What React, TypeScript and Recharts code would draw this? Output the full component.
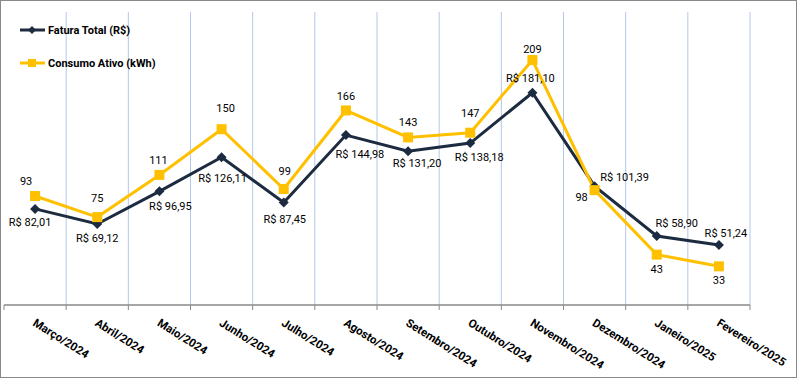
import React from "react";
import { CartesianGrid, LabelList, Line, LineChart, XAxis, YAxis } from "recharts";

const MONTHS = [
  "Março/2024",
  "Abril/2024",
  "Maio/2024",
  "Junho/2024",
  "Julho/2024",
  "Agosto/2024",
  "Setembro/2024",
  "Outubro/2024",
  "Novembro/2024",
  "Dezembro/2024",
  "Janeiro/2025",
  "Fevereiro/2025",
];

const FATURA = [82.01, 69.12, 96.95, 126.11, 87.45, 144.98, 131.2, 138.18, 181.1, 101.39, 58.9, 51.24];
const CONSUMO = [93, 75, 111, 150, 99, 166, 143, 147, 209, 98, 43, 33];

// label offsets from each point (dx, dy to text centre)
const FATURA_LABEL_OFFSET = [
  [-5, 13], [0, 14], [11, 15], [1, 21], [1, 16], [14, 19],
  [9, 12], [9, 14], [-2, -15], [30, -9], [20, -13], [7, -12],
];
const CONSUMO_LABEL_OFFSET = [
  [-9, -15], [0, -19], [-1, -15], [4, -21], [1, -18], [0, -14],
  [0, -15], [0, -20], [0, -11], [-13, 7], [0, 14], [0, 14],
];

const data = MONTHS.map((month, i) => ({ month, fatura: FATURA[i], consumo: CONSUMO[i] }));

const NAVY = "#1c2b40";
const GOLD = "#ffc000";
const GRID = "#b4c7e7";
const AXIS = "#898989";
const FONT = "Roboto, 'Noto Sans', sans-serif";

const W = 795;
const H = 376;
const MARGIN = { top: 11, right: 46, bottom: 0, left: 3 };
const X_AXIS_H = 72;
const BAND = (W - MARGIN.left - MARGIN.right) / MONTHS.length;

const brl = (v: number) => "R$ " + v.toFixed(2).replace(".", ",");

function Diamond(props: any) {
  const { cx, cy } = props;
  if (cx == null || cy == null) return null;
  const r = 5;
  return <polygon points={`${cx},${cy - r} ${cx + r},${cy} ${cx},${cy + r} ${cx - r},${cy}`} fill={NAVY} />;
}

function Square(props: any) {
  const { cx, cy } = props;
  if (cx == null || cy == null) return null;
  return <rect x={cx - 5} y={cy - 5} width={10} height={10} fill={GOLD} />;
}

function makeLabel(offsets: number[][], format: (v: number) => string) {
  return (props: any) => {
    const { x, y, value, index } = props;
    const [dx, dy] = offsets[index] || [0, -12];
    return (
      <text x={x + dx} y={y + dy + 4} textAnchor="middle" fontFamily={FONT} fontSize={11} fill="#000">
        {format(value)}
      </text>
    );
  };
}

function MonthTick(props: any) {
  const { payload, index } = props;
  const x = payload.coordinate;
  const axisY = H - X_AXIS_H - MARGIN.bottom;
  return (
    <g>
      <line x1={x - BAND / 2} x2={x - BAND / 2} y1={axisY} y2={axisY + 5} stroke={AXIS} />
      {index === MONTHS.length - 1 && (
        <line x1={x + BAND / 2} x2={x + BAND / 2} y1={axisY} y2={axisY + 5} stroke={AXIS} />
      )}
      <text
        x={0}
        y={0}
        transform={`translate(${x - 3},${axisY + 20}) rotate(32)`}
        textAnchor="start"
        fontFamily={FONT}
        fontSize={11.5}
        fontWeight="bold"
        fill="#000"
      >
        {payload.value}
      </text>
    </g>
  );
}

function ChartLegend() {
  const rows = [
    { name: "Fatura Total (R$)", color: NAVY, marker: "diamond" },
    { name: "Consumo Ativo (kWh)", color: GOLD, marker: "square" },
  ];
  return (
    <svg width={170} height={60} style={{ position: "absolute", left: 17, top: 19 }}>
      {rows.map((r, i) => {
        const y = 10 + i * 33;
        return (
          <g key={r.name}>
            <line x1={2} x2={27} y1={y} y2={y} stroke={r.color} strokeWidth={3} />
            {r.marker === "diamond" ? (
              <polygon points={`14,${y - 4} 18,${y} 14,${y + 4} 10,${y}`} fill={r.color} />
            ) : (
              <rect x={10} y={y - 4} width={8} height={8} fill={r.color} />
            )}
            <text x={30} y={y + 4} fontFamily={FONT} fontSize={11} fontWeight="bold" fill="#000">
              {r.name}
            </text>
          </g>
        );
      })}
    </svg>
  );
}

export default function App() {
  return (
    <div
      style={{
        position: "absolute",
        left: 0,
        top: 0,
        width: 797,
        height: 378,
        boxSizing: "border-box",
        border: `1px solid ${AXIS}`,
        background: "#fff",
      }}
    >
      <LineChart width={W} height={H} data={data} margin={MARGIN}>
        <CartesianGrid
          horizontal={false}
          stroke={GRID}
          verticalCoordinatesGenerator={({ offset }: any) =>
            MONTHS.map((_, i) => offset.left + ((i + 1) * offset.width) / MONTHS.length)
          }
        />
        <XAxis
          dataKey="month"
          interval={0}
          height={X_AXIS_H}
          padding={{ left: BAND / 2, right: BAND / 2 }}
          tickLine={false}
          axisLine={{ stroke: AXIS, strokeWidth: 1.5 }}
          tick={<MonthTick />}
        />
        <YAxis domain={[0, 250]} width={0} tick={false} tickLine={false} axisLine={{ stroke: AXIS }} />
        <Line
          dataKey="fatura"
          name="Fatura Total (R$)"
          stroke={NAVY}
          strokeWidth={3}
          dot={<Diamond />}
          activeDot={false}
          isAnimationActive={false}
        >
          <LabelList dataKey="fatura" content={makeLabel(FATURA_LABEL_OFFSET, brl)} />
        </Line>
        <Line
          dataKey="consumo"
          name="Consumo Ativo (kWh)"
          stroke={GOLD}
          strokeWidth={3}
          dot={<Square />}
          activeDot={false}
          isAnimationActive={false}
        >
          <LabelList dataKey="consumo" content={makeLabel(CONSUMO_LABEL_OFFSET, (v) => String(v))} />
        </Line>
      </LineChart>
      <ChartLegend />
    </div>
  );
}
